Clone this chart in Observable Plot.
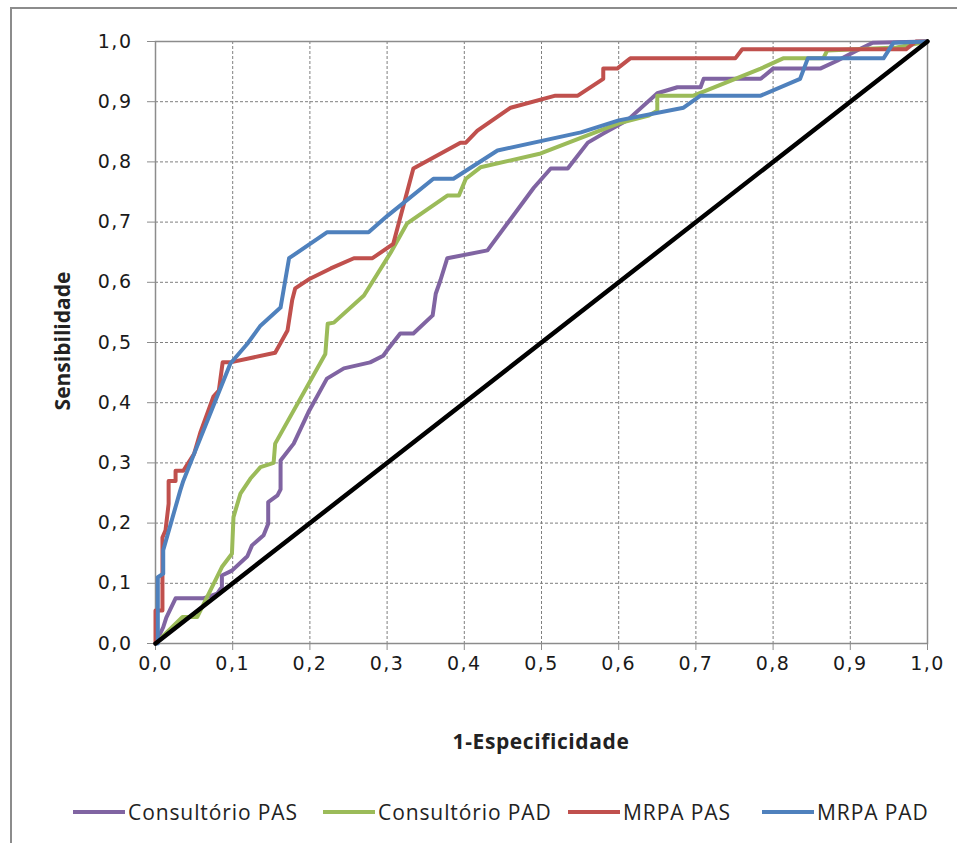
<!DOCTYPE html>
<html>
<head>
<meta charset="utf-8">
<script src="https://cdn.jsdelivr.net/npm/d3@7"></script>
<script src="https://cdn.jsdelivr.net/npm/@observablehq/plot@0.6"></script>
<style>
  html, body { margin: 0; padding: 0; background: #fff; overflow: hidden; }
  #wrap { position: relative; width: 957px; height: 843px; overflow: hidden; }
  #box { position: absolute; left: 10px; top: 7px; width: 1000px; height: 900px;
         border: 2px solid #8c8c8c; box-sizing: border-box; }
  #chart { position: absolute; left: 0; top: 0; }
  .ytitle { position: absolute; left: 62px; top: 341px; transform: translate(-50%, -50%) rotate(-90deg);
            font: bold 21px "Open Sans"; color: #222; white-space: nowrap; }
  .xtitle { position: absolute; left: 541px; top: 741px; transform: translate(-50%, -50%);
            font: bold 21px "Open Sans"; letter-spacing: 0.6px; color: #222; white-space: nowrap; }
  .legend { position: absolute; top: 812px; left: 0; font: 21px "Open Sans"; letter-spacing: 0.9px; color: #222; }
  .item { position: absolute; transform: translateY(-50%); white-space: nowrap; display: flex; align-items: center; }
  .sw { display: inline-block; width: 52px; height: 4px; margin-right: 3px; }
</style>
</head>
<body>
<div id="wrap">
  <div id="box"></div>
  <div id="chart"></div>
  <div class="ytitle">Sensibilidade</div>
  <div class="xtitle">1-Especificidade</div>
  <div class="legend" id="legend"></div>
</div>
<script>
// Tick values
const ticks = [0, 0.1, 0.2, 0.3, 0.4, 0.5, 0.6, 0.7, 0.8, 0.9, 1.0];

// Series names and colors
const seriesNames = ["Consultório PAS", "Consultório PAD", "MRPA PAS", "MRPA PAD"];
const seriesColors = ["#8064A2", "#9BBB59", "#C0504D", "#4F81BD"];

// Consultório PAS
const consPAS_x = [0, 0.01, 0.014, 0.026, 0.062, 0.08, 0.086, 0.086, 0.099, 0.119, 0.125, 0.14, 0.146, 0.146, 0.158, 0.162, 0.162, 0.179, 0.198, 0.222, 0.244, 0.278, 0.295, 0.3, 0.317, 0.334, 0.359, 0.363, 0.369, 0.378, 0.43, 0.49, 0.512, 0.534, 0.56, 0.58, 0.611, 0.65, 0.676, 0.706, 0.71, 0.784, 0.8, 0.861, 0.883, 0.913, 0.929, 1];
const consPAS_y = [0, 0.027, 0.043, 0.075, 0.075, 0.083, 0.094, 0.113, 0.121, 0.145, 0.163, 0.18, 0.199, 0.235, 0.246, 0.256, 0.304, 0.332, 0.384, 0.44, 0.457, 0.467, 0.478, 0.487, 0.515, 0.515, 0.545, 0.581, 0.603, 0.64, 0.653, 0.757, 0.789, 0.789, 0.832, 0.847, 0.869, 0.914, 0.924, 0.924, 0.938, 0.938, 0.955, 0.955, 0.968, 0.988, 0.998, 1];

// Consultório PAD
const consPAD_x = [0, 0.035, 0.054, 0.086, 0.099, 0.101, 0.11, 0.123, 0.136, 0.153, 0.155, 0.22, 0.223, 0.231, 0.27, 0.304, 0.326, 0.378, 0.393, 0.402, 0.421, 0.499, 0.551, 0.6, 0.639, 0.65, 0.65, 0.697, 0.784, 0.813, 0.865, 0.87, 0.96, 1];
const consPAD_y = [0, 0.044, 0.044, 0.127, 0.149, 0.21, 0.249, 0.274, 0.293, 0.3, 0.332, 0.481, 0.531, 0.533, 0.578, 0.648, 0.698, 0.744, 0.744, 0.772, 0.791, 0.814, 0.84, 0.864, 0.877, 0.885, 0.91, 0.91, 0.955, 0.972, 0.972, 0.985, 0.99, 1];

// MRPA PAS
const mrpaPAS_x = [0, 0, 0.009, 0.009, 0.013, 0.017, 0.017, 0.026, 0.026, 0.036, 0.05, 0.058, 0.075, 0.082, 0.087, 0.097, 0.155, 0.171, 0.177, 0.181, 0.2, 0.227, 0.257, 0.281, 0.308, 0.334, 0.395, 0.402, 0.417, 0.46, 0.518, 0.547, 0.58, 0.58, 0.598, 0.615, 0.751, 0.76, 0.972, 0.985, 1];
const mrpaPAS_y = [0, 0.055, 0.055, 0.176, 0.188, 0.232, 0.27, 0.27, 0.287, 0.287, 0.315, 0.35, 0.41, 0.42, 0.467, 0.467, 0.483, 0.52, 0.57, 0.59, 0.606, 0.623, 0.64, 0.64, 0.664, 0.789, 0.832, 0.832, 0.852, 0.89, 0.91, 0.91, 0.938, 0.955, 0.955, 0.972, 0.972, 0.987, 0.987, 1, 1];

// MRPA PAD
const mrpaPAD_x = [0, 0.003, 0.003, 0.01, 0.01, 0.02, 0.032, 0.036, 0.05, 0.097, 0.119, 0.136, 0.162, 0.173, 0.222, 0.276, 0.3, 0.36, 0.386, 0.443, 0.551, 0.6, 0.684, 0.706, 0.784, 0.835, 0.845, 0.943, 0.956, 1];
const mrpaPAD_y = [0, 0, 0.11, 0.116, 0.155, 0.2, 0.254, 0.27, 0.315, 0.465, 0.498, 0.528, 0.558, 0.64, 0.683, 0.683, 0.71, 0.772, 0.772, 0.819, 0.849, 0.869, 0.89, 0.91, 0.91, 0.938, 0.972, 0.972, 0.998, 1];

// Reference (chance) line
const refX = [0, 1];
const refY = [0, 1];

const seriesX = [consPAS_x, consPAD_x, mrpaPAS_x, mrpaPAD_x];
const seriesY = [consPAS_y, consPAD_y, mrpaPAS_y, mrpaPAD_y];

const fmt = d => d.toFixed(1).replace(".", ",");

const lineMarks = seriesX.map((xs, i) =>
  Plot.line(xs, {x: xs, y: seriesY[i], stroke: seriesColors[i], strokeWidth: 4, strokeLinejoin: "round", strokeLinecap: "butt"})
);

const chart = Plot.plot({
  width: 957,
  height: 700,
  marginLeft: 155,
  marginRight: 30,
  marginTop: 41,
  marginBottom: 57,
  x: {domain: [0, 1]},
  y: {domain: [0, 1]},
  style: {fontFamily: "DejaVu Sans", fontSize: "19px", color: "#222", background: "transparent", letterSpacing: "1.5px", overflow: "visible"},
  marks: [
    Plot.gridX(ticks, {stroke: "#7f7f7f", strokeOpacity: 1, strokeDasharray: "3,2"}),
    Plot.gridY(ticks, {stroke: "#7f7f7f", strokeOpacity: 1, strokeDasharray: "3,2"}),
    Plot.frame({stroke: "#8c8c8c", strokeWidth: 1.5}),
    Plot.axisX(ticks, {tickFormat: fmt, tickSize: 7, tickPadding: 6, stroke: "#8c8c8c", fill: "#1a1a1a", fontSize: 19, label: null}),
    Plot.axisY(ticks, {tickFormat: fmt, tickSize: 8, tickPadding: 15, stroke: "#8c8c8c", fill: "#1a1a1a", fontSize: 19, label: null}),
    ...lineMarks,
    Plot.line(refX, {x: refX, y: refY, stroke: "#000", strokeWidth: 4.5})
  ]
});
document.getElementById("chart").appendChild(chart);

// Legend
const legendPos = [73, 323, 568, 762];
const legend = document.getElementById("legend");
seriesNames.forEach((name, i) => {
  const item = document.createElement("div");
  item.className = "item";
  item.style.left = legendPos[i] + "px";
  const sw = document.createElement("span");
  sw.className = "sw";
  sw.style.background = seriesColors[i];
  const t = document.createElement("span");
  t.textContent = name;
  item.appendChild(sw);
  item.appendChild(t);
  legend.appendChild(item);
});
</script>
</body>
</html>
